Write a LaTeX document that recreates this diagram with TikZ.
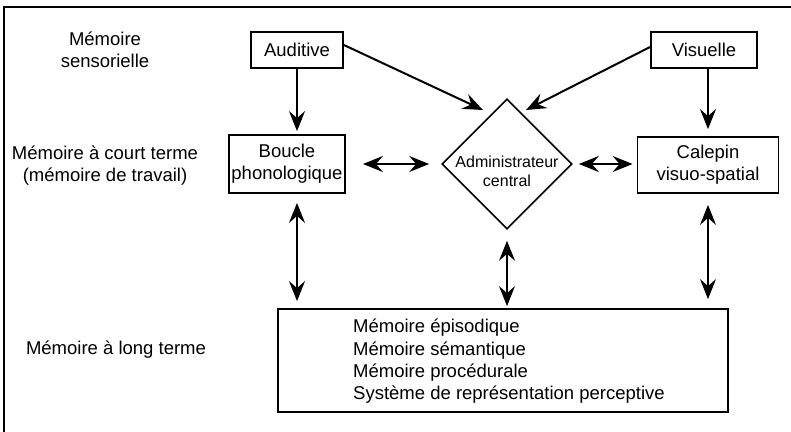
\documentclass[tikz,border=0pt]{standalone}
\usepackage{fontspec}
\setmainfont{Liberation Sans}
\usetikzlibrary{shapes.geometric,arrows.meta,calc}
\begin{document}
\begin{tikzpicture}[x=1pt,y=-1pt,
  txt/.style={font=\fontsize{18.5}{22}\selectfont, align=center},
  box/.style={draw, line width=1.8pt, inner sep=0pt, txt},
  arr/.style={line width=2pt, -{Stealth[length=20pt,width=16pt,inset=7pt]}},
  darr/.style={line width=2pt, {Stealth[length=20pt,width=16pt,inset=7pt]}-{Stealth[length=20pt,width=16pt,inset=7pt]}},
]
\useasboundingbox (0,0) rectangle (791,431);
\draw[line width=2.6pt] (4,433) -- (4,7) -- (793,7);

% left labels
\node[txt] (sens) at (105,50) {Mémoire\\sensorielle};
\node[txt] (court) at (105,166) {Mémoire à court terme\\(mémoire de travail)};
\node[txt] (long) at (116,350) {Mémoire à long terme};

% boxes
\node[box, minimum width=92, minimum height=36] (aud) at (297,50) {Auditive};
\node[box, minimum width=106, minimum height=36] (vis) at (704,50) {Visuelle};
\node[box, minimum width=116, minimum height=58] (bou) at (287,164) {Boucle\\phonologique};
\node[box, minimum width=141, minimum height=56] (cal) at (708,165) {Calepin\\visuo-spatial};
\node[diamond, draw, line width=1.6pt, minimum width=130, minimum height=130, inner sep=0pt] (adm) at (507,164) {};
\node[font=\fontsize{16}{19}\selectfont, align=center] (admt) at (507,171) {Administrateur\\central};
\node[draw, line width=1.8pt, minimum width=450, minimum height=103, inner sep=0pt] (ltm) at (503,360.5) {};
\node[font=\fontsize{18.5}{22.3}\selectfont, align=left, anchor=west, inner sep=0pt] (ltmt) at (353,361.5)
  {Mémoire épisodique\\Mémoire sémantique\\Mémoire procédurale\\Système de représentation perceptive};

% connectors
\draw[arr, shorten >=3pt] (aud.south) -- (aud.south |- bou.north);
\draw[arr, shorten >=7pt] (cal.north |- vis.south) -- (cal.north);
\draw[arr] ($(aud.east)+(0,-5)$) -- ($(adm)+(-24,-54)$);
\draw[arr] ($(vis.west)+(0,-3)$) -- ($(adm)+(19,-54)$);
\draw[darr, shorten <=17pt, shorten >=12pt] (bou.east |- adm.west) -- (adm.west);
\draw[darr, shorten <=6pt, shorten >=4pt] (adm.east) -- (cal.west |- adm.east);
\draw[darr, shorten <=9pt, shorten >=7pt] (aud.south |- bou.south) -- (aud.south |- ltm.north);
\draw[darr, line width=1.4pt, shorten <=11pt, shorten >=2pt] (adm.south) -- (adm.south |- ltm.north);
\draw[darr, shorten <=11pt, shorten >=9pt] (cal.south) -- (cal.south |- ltm.north);
\end{tikzpicture}
\end{document}
